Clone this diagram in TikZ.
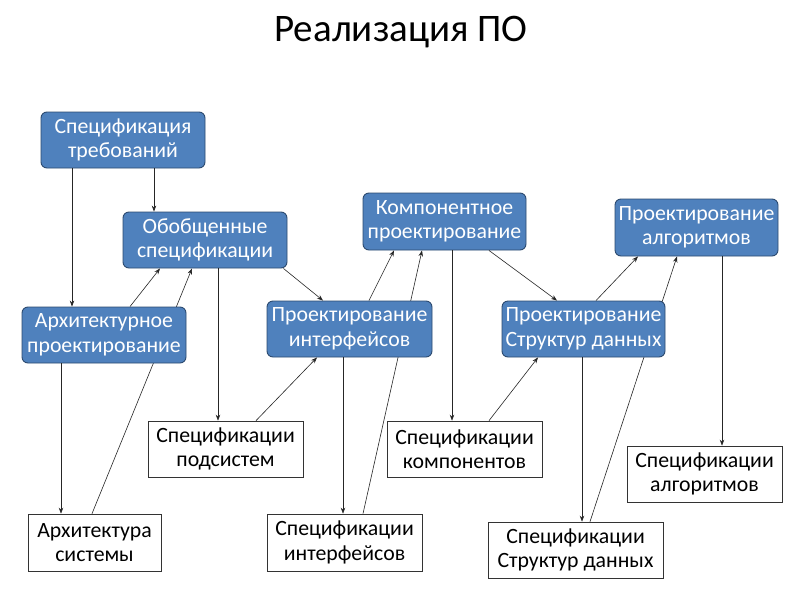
\documentclass[tikz,border=0pt]{standalone}
\usepackage{fontspec}
\setmainfont{Carlito}
\usetikzlibrary{arrows.meta,backgrounds}
\definecolor{boxblue}{HTML}{4F81BD}
\definecolor{boxedge}{HTML}{2C4A70}
\tikzset{
  bluebox/.style={draw=boxedge, line width=0.9pt, fill=boxblue, rounded corners=6pt,
    text=white, align=center, inner sep=0pt, font=\fontsize{21.8}{24.5}\selectfont},
  whitebox/.style={draw=black!80, line width=0.7pt, fill=white, align=center,
    inner sep=0pt, font=\fontsize{21.8}{24.5}\selectfont, text=black},
  arr/.style={draw=black!85, line width=0.6pt, -{Stealth[length=6pt,width=4.5pt]}},
  ttl/.style={font=\fontsize{39}{44}\selectfont, text=black, inner sep=0pt}
}
\begin{document}
\begin{tikzpicture}[x=1pt,y=-1pt]
\useasboundingbox (0,0) rectangle (800,600);
\node[ttl] (title) at (401,32) {Реализация ПО};
% blue boxes
\node[bluebox, minimum width=164pt, minimum height=56pt] (req) at (123,140) {Спецификация\\требований};
\node[bluebox, minimum width=164pt, minimum height=56pt] (gen) at (205,240) {Обобщенные\\спецификации};
\node[bluebox, minimum width=164pt, minimum height=56pt] (arch) at (104,335) {Архитектурное\\проектирование};
\node[bluebox, minimum width=165pt, minimum height=56pt] (idsg) at (349.5,329) {Проектирование\\интерфейсов};
\node[bluebox, minimum width=163pt, minimum height=57pt] (comp) at (444.5,221.5) {Компонентное\\проектирование};
\node[bluebox, minimum width=163pt, minimum height=56pt] (dsdsg) at (583.5,329) {Проектирование\\Структур данных};
\node[bluebox, minimum width=163pt, minimum height=57pt] (alg) at (696.5,227.5) {Проектирование\\алгоритмов};
% white boxes
\node[whitebox, minimum width=133pt, minimum height=57pt] (sysarch) at (94.5,542.5) {Архитектура\\системы};
\node[whitebox, minimum width=155pt, minimum height=56pt] (subsys) at (225.5,449) {Спецификации\\подсистем};
\node[whitebox, minimum width=155pt, minimum height=57pt] (ispec) at (344.5,542.5) {Спецификации\\интерфейсов};
\node[whitebox, minimum width=155pt, minimum height=56pt] (cspec) at (464.5,449) {Спецификации\\компонентов};
\node[whitebox, minimum width=175pt, minimum height=56pt] (dsspec) at (575.5,550) {Спецификации\\Структур данных};
\node[whitebox, minimum width=155pt, minimum height=56pt] (algspec) at (704.5,474) {Спецификации\\алгоритмов};
% connectors hidden behind boxes
\begin{pgfonlayer}{background}
\fill[white] (0,0) rectangle (800,600);
\draw[arr] ([xshift=-2.5pt]sysarch.north) -- ([xshift=-13pt]gen.south);
\draw[arr] ([xshift=18.5pt]ispec.north) -- ([xshift=-22.5pt]comp.south);
\draw[arr] ([xshift=14.5pt]dsspec.north) -- ([xshift=-19.5pt]alg.south);
\end{pgfonlayer}
% connectors
\draw[arr] ([xshift=-51pt]req.south) -- ([xshift=-32pt]arch.north);
\draw[arr] ([xshift=31pt]req.south) -- ([xshift=-51pt]gen.north);
\draw[arr] ([xshift=26pt]arch.north) -- ([xshift=-45pt]gen.south);
\draw[arr] ([xshift=-43pt]arch.south) -- ([xshift=-33.5pt]sysarch.north);
\draw[arr] ([xshift=-4pt]gen.south east) -- ([xshift=-26.5pt]idsg.north);
\draw[arr] ([xshift=13pt]gen.south) -- ([xshift=-7.5pt]subsys.north);
\draw[arr] ([xshift=30.5pt]subsys.north) -- ([xshift=-32.5pt]idsg.south);
\draw[arr] ([xshift=19.5pt]idsg.north) -- ([xshift=-50.5pt]comp.south);
\draw[arr] ([xshift=-6.5pt]idsg.south) -- ([xshift=-1.5pt]ispec.north);
\draw[arr] ([xshift=7.5pt]comp.south) -- ([xshift=-12.5pt]cspec.north);
\draw[arr] ([xshift=44.5pt]comp.south) -- ([xshift=-26.5pt]dsdsg.north);
\draw[arr] ([xshift=24.5pt]cspec.north) -- ([xshift=-45.5pt]dsdsg.south);
\draw[arr] ([xshift=12.5pt]dsdsg.north) -- ([xshift=-58.5pt]alg.south);
\draw[arr] ([xshift=-1.5pt]dsdsg.south) -- ([xshift=6.5pt]dsspec.north);
\draw[arr] ([xshift=25.5pt]alg.south) -- ([xshift=17.5pt]algspec.north);
\end{tikzpicture}
\end{document}
